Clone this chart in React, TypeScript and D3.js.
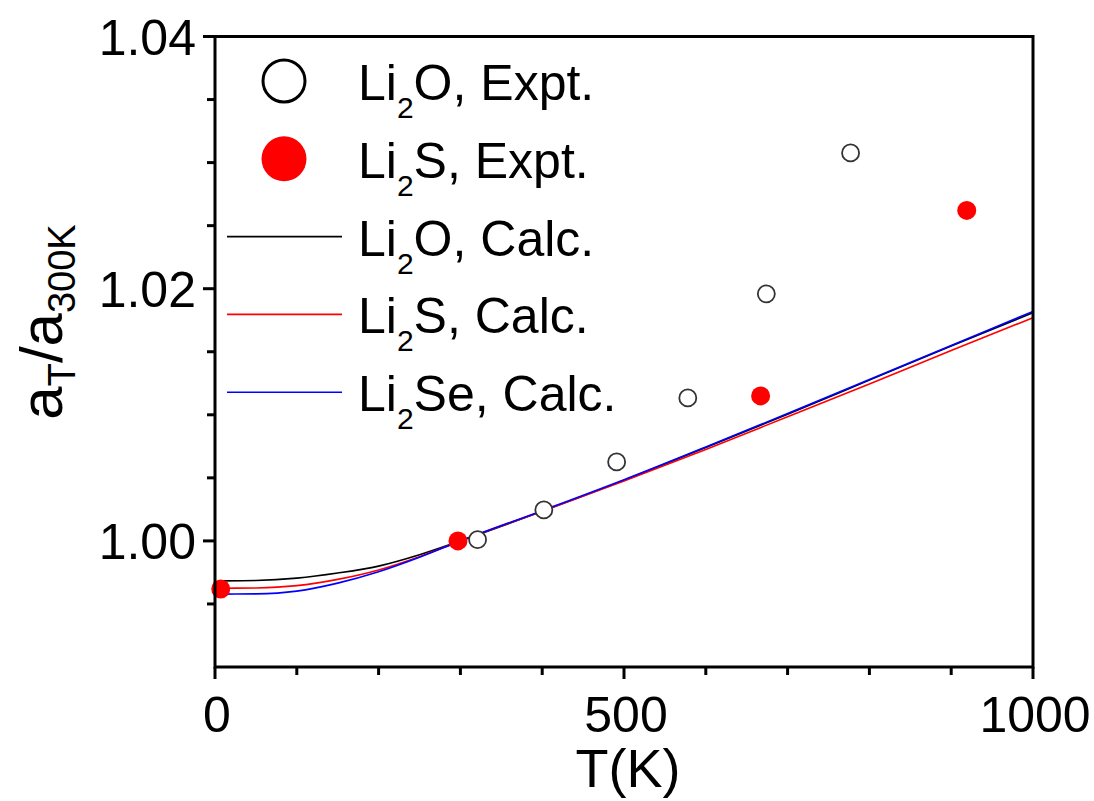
import React from "react";
import * as d3 from "d3";

// Experimental lattice ratios a_T / a_300K
const li2oExptT = [321, 402, 491, 578, 674, 777];
const li2oExptV = [1.0001, 1.00246, 1.00626, 1.01134, 1.01959, 1.03077];
const li2sExptT = [7, 297, 667, 919];
const li2sExptV = [0.99619, 1.0, 1.0115, 1.02621];

// Calculated curves (quasi-harmonic)
const calcT = [10, 50, 100, 150, 200, 250, 300, 400, 500, 600, 700, 800, 900, 1000];
const li2oCalc = [0.99683, 0.99686, 0.99705, 0.99745, 0.998, 0.9989, 1.0, 1.00235, 1.0048, 1.0074, 1.01005, 1.01275, 1.01545, 1.0181];
const li2sCalc = [0.99625, 0.99627, 0.99645, 0.99695, 0.9977, 0.99875, 1.0, 1.00235, 1.00475, 1.00725, 1.00985, 1.01245, 1.0151, 1.0177];
const li2seCalc = [0.99578, 0.9958, 0.99602, 0.99665, 0.99755, 0.9987, 1.0, 1.0024, 1.00485, 1.00745, 1.0101, 1.0128, 1.0155, 1.0182];

const xMajor = [0, 500, 1000];
const xMinor = [100, 200, 300, 400, 600, 700, 800, 900];
const yMajor = [1.0, 1.02, 1.04];
const yMinor = [0.995, 1.005, 1.01, 1.015, 1.025, 1.03, 1.035];

const W = 1094;
const H = 801;
const L = 215, R = 1033, T = 36.5, B = 667;
const FONT = "'Liberation Sans', Arial, sans-serif";

export default function App() {
  const x = d3.scaleLinear().domain([0, 1000]).range([L, R]);
  const y = d3.scaleLinear().domain([0.99, 1.04]).range([B, T]);

  const line = d3
    .line<[number, number]>()
    .x((d) => x(d[0]))
    .y((d) => y(d[1]))
    .curve(d3.curveMonotoneX);

  const calc = [
    { vals: li2oCalc, color: "#000000" },
    { vals: li2sCalc, color: "#ff0000" },
    { vals: li2seCalc, color: "#0000ff" },
  ];

  const legend = [
    { kind: "open", pre: "Li", sub: "2", post: "O, Expt." },
    { kind: "fill", pre: "Li", sub: "2", post: "S, Expt." },
    { kind: "line", color: "#000000", pre: "Li", sub: "2", post: "O, Calc." },
    { kind: "line", color: "#ff0000", pre: "Li", sub: "2", post: "S, Calc." },
    { kind: "line", color: "#0000ff", pre: "Li", sub: "2", post: "Se, Calc." },
  ];

  return (
    <svg
      width={W}
      height={H}
      style={{ position: "absolute", left: 0, top: 0, background: "#fff" }}
      fontFamily={FONT}
    >
      <rect x={0} y={0} width={W} height={H} fill="#fff" />
      <defs>
        <clipPath id="plotclip">
          <rect x={L} y={T} width={R - L} height={B - T} />
        </clipPath>
      </defs>

      {/* calculated curves */}
      <g clipPath="url(#plotclip)">
        {calc.map((c, i) => (
          <path
            key={i}
            d={line(calcT.map((t, j) => [t, c.vals[j]] as [number, number])) || ""}
            fill="none"
            stroke={c.color}
            strokeWidth={1.6}
          />
        ))}
      </g>

      {/* experimental points */}
      {li2sExptT.map((t, i) => (
        <circle key={"s" + i} cx={x(t)} cy={y(li2sExptV[i])} r={9.5} fill="#ff0000" />
      ))}
      {li2oExptT.map((t, i) => (
        <circle
          key={"o" + i}
          cx={x(t)}
          cy={y(li2oExptV[i])}
          r={8.5}
          fill="#fff"
          stroke="#333"
          strokeWidth={1.8}
        />
      ))}

      {/* frame */}
      <rect x={L} y={T} width={R - L} height={B - T} fill="none" stroke="#000" strokeWidth={3} />

      {/* x ticks */}
      {xMajor.map((v) => (
        <line key={"xM" + v} x1={x(v)} x2={x(v)} y1={B} y2={B + 12} stroke="#000" strokeWidth={3} />
      ))}
      {xMinor.map((v) => (
        <line key={"xm" + v} x1={x(v)} x2={x(v)} y1={B} y2={B + 8} stroke="#000" strokeWidth={3} />
      ))}
      {xMajor.map((v) => (
        <text key={"xl" + v} x={x(v) + 2} y={732} fontSize={50} textAnchor="middle" fill="#000">
          {v}
        </text>
      ))}

      {/* y ticks */}
      {yMajor.map((v) => (
        <line key={"yM" + v} x1={L - 12} x2={L} y1={y(v)} y2={y(v)} stroke="#000" strokeWidth={3} />
      ))}
      {yMinor.map((v) => (
        <line key={"ym" + v} x1={L - 8} x2={L} y1={y(v)} y2={y(v)} stroke="#000" strokeWidth={3} />
      ))}
      {yMajor.map((v) => (
        <text key={"yl" + v} x={196} y={y(v) + 18} fontSize={50} textAnchor="end" fill="#000">
          {d3.format(".2f")(v)}
        </text>
      ))}

      {/* axis titles */}
      <text x={628} y={787} fontSize={54} textAnchor="middle" fill="#000">
        T(K)
      </text>
      <text
        transform="translate(62,322) rotate(-90)"
        fontSize={60}
        textAnchor="middle"
        fill="#000"
      >
        a
        <tspan fontSize={38} dy={13}>T</tspan>
        <tspan dy={-13}>/a</tspan>
        <tspan fontSize={38} dy={13}>300K</tspan>
      </text>

      {/* legend */}
      {legend.map((item, i) => {
        const base = 100 + i * 77.8;
        const cy = base - 19;
        return (
          <g key={"lg" + i}>
            {item.kind === "open" && (
              <circle cx={284} cy={cy} r={21} fill="#fff" stroke="#000" strokeWidth={3} />
            )}
            {item.kind === "fill" && <circle cx={284} cy={cy} r={22.5} fill="#ff0000" />}
            {item.kind === "line" && (
              <line x1={227} x2={342} y1={cy} y2={cy} stroke={item.color} strokeWidth={1.6} />
            )}
            <text x={358} y={base} fontSize={50} fill="#000">
              {item.pre}
              <tspan fontSize={30} dy={18}>{item.sub}</tspan>
              <tspan dy={-18}>{item.post}</tspan>
            </text>
          </g>
        );
      })}
    </svg>
  );
}
